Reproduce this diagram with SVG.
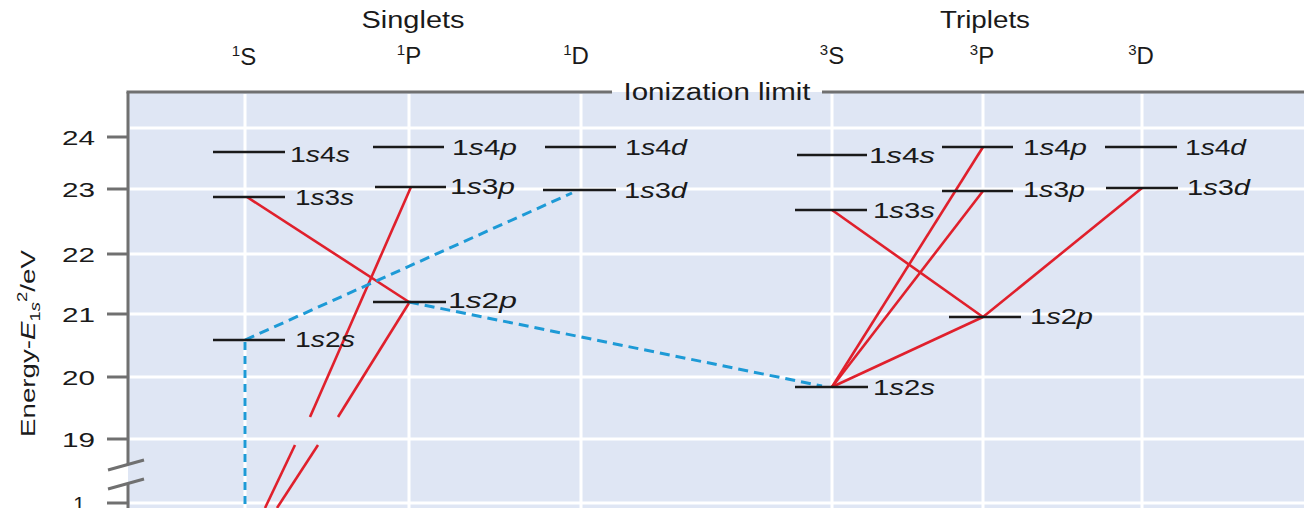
<svg xmlns="http://www.w3.org/2000/svg" width="1304" height="508" viewBox="0 0 1304 508">
<style>
text{font-family:"Liberation Sans",Arial,sans-serif;fill:#1a1a1a}
.hd{font-size:23px}
.tm{font-size:24px}
.sup{font-size:15px}
.ax{font-size:21px}
.lv{font-size:22px}
.i{font-style:italic}
.grid{stroke:#ffffff;stroke-width:3}
.axis{stroke:#707070;stroke-width:3;fill:none}
.lvl{stroke:#1a1a1a;stroke-width:2.6}
.red{stroke:#e0202c;stroke-width:2.6;fill:none}
.blue{stroke:#1d9ad6;stroke-width:3;stroke-dasharray:10 6;fill:none}
.bluev{stroke:#1d9ad6;stroke-width:3;stroke-dasharray:8 6;fill:none}
</style>
<rect x="0" y="0" width="1304" height="508" fill="#ffffff"/>
<rect x="128" y="92" width="1176" height="416" fill="#dfe6f4"/>
<g id="grid">
<line class="grid" x1="130" y1="128" x2="1304" y2="128"/>
<line class="grid" x1="130" y1="189" x2="1304" y2="189"/>
<line class="grid" x1="130" y1="254" x2="1304" y2="254"/>
<line class="grid" x1="130" y1="314" x2="1304" y2="314"/>
<line class="grid" x1="130" y1="377" x2="1304" y2="377"/>
<line class="grid" x1="130" y1="439" x2="1304" y2="439"/>
<line class="grid" x1="130" y1="503" x2="1304" y2="503"/>
<line class="grid" x1="245" y1="94" x2="245" y2="508"/>
<line class="grid" x1="409" y1="94" x2="409" y2="508"/>
<line class="grid" x1="581" y1="94" x2="581" y2="508"/>
<line class="grid" x1="832" y1="94" x2="832" y2="508"/>
<line class="grid" x1="983" y1="94" x2="983" y2="508"/>
<line class="grid" x1="1142" y1="94" x2="1142" y2="508"/>
</g>
<g id="axis">
<line class="axis" x1="128" y1="92" x2="128" y2="464"/>
<line class="axis" x1="128" y1="483" x2="128" y2="508"/>
<line class="axis" x1="126.5" y1="92" x2="612" y2="92"/>
<line class="axis" x1="822" y1="92" x2="1304" y2="92"/>
<line class="axis" x1="108" y1="470" x2="144" y2="460"/>
<line class="axis" x1="108" y1="489" x2="144" y2="479"/>
<line class="axis" x1="107" y1="137" x2="128" y2="137"/>
<line class="axis" x1="107" y1="189" x2="128" y2="189"/>
<line class="axis" x1="107" y1="254" x2="128" y2="254"/>
<line class="axis" x1="107" y1="314" x2="128" y2="314"/>
<line class="axis" x1="107" y1="377" x2="128" y2="377"/>
<line class="axis" x1="107" y1="439" x2="128" y2="439"/>
<line class="axis" x1="107" y1="503" x2="128" y2="503"/>
<text class="ax" x="95" y="145" text-anchor="end" textLength="33" lengthAdjust="spacingAndGlyphs">24</text>
<text class="ax" x="95" y="197" text-anchor="end" textLength="33" lengthAdjust="spacingAndGlyphs">23</text>
<text class="ax" x="95" y="262" text-anchor="end" textLength="33" lengthAdjust="spacingAndGlyphs">22</text>
<text class="ax" x="95" y="322" text-anchor="end" textLength="33" lengthAdjust="spacingAndGlyphs">21</text>
<text class="ax" x="95" y="385" text-anchor="end" textLength="33" lengthAdjust="spacingAndGlyphs">20</text>
<text class="ax" x="95" y="447" text-anchor="end" textLength="33" lengthAdjust="spacingAndGlyphs">19</text>
<text class="ax" x="85" y="511" text-anchor="end">1</text>
<text class="ax" font-size="20" transform="translate(35,437) rotate(-90) scale(1.32,1)">Energy-<tspan class="i">E</tspan><tspan font-size="14" dy="5">1<tspan class="i">s</tspan></tspan><tspan font-size="14" dy="-13">2</tspan><tspan dy="8">/eV</tspan></text>
</g>
<g id="headers">
<text class="hd" x="413" y="28" text-anchor="middle" textLength="103" lengthAdjust="spacingAndGlyphs">Singlets</text>
<text class="hd" x="985" y="28" text-anchor="middle" textLength="90" lengthAdjust="spacingAndGlyphs">Triplets</text>
<text class="hd" x="717" y="100" text-anchor="middle" textLength="187" lengthAdjust="spacingAndGlyphs">Ionization limit</text>
<text class="tm" x="244" y="65" text-anchor="middle"><tspan class="sup" dy="-9">1</tspan><tspan dy="9">S</tspan></text>
<text class="tm" x="409" y="64" text-anchor="middle"><tspan class="sup" dy="-9">1</tspan><tspan dy="9">P</tspan></text>
<text class="tm" x="576" y="64" text-anchor="middle"><tspan class="sup" dy="-9">1</tspan><tspan dy="9">D</tspan></text>
<text class="tm" x="832" y="64" text-anchor="middle"><tspan class="sup" dy="-9">3</tspan><tspan dy="9">S</tspan></text>
<text class="tm" x="982" y="64" text-anchor="middle"><tspan class="sup" dy="-9">3</tspan><tspan dy="9">P</tspan></text>
<text class="tm" x="1141" y="64" text-anchor="middle"><tspan class="sup" dy="-9">3</tspan><tspan dy="9">D</tspan></text>
</g>
<g id="connectors">
<line class="red" x1="247" y1="197" x2="409" y2="302"/>
<line class="red" x1="411" y1="187" x2="310" y2="417"/>
<line class="red" x1="295" y1="445" x2="265" y2="508"/>
<line class="red" x1="409" y1="303" x2="338" y2="417"/>
<line class="red" x1="318" y1="445" x2="277" y2="508"/>
<line class="red" x1="832" y1="210" x2="983" y2="317"/>
<line class="red" x1="832" y1="387" x2="983" y2="147"/>
<line class="red" x1="832" y1="387" x2="983" y2="191"/>
<line class="red" x1="832" y1="387" x2="983" y2="317"/>
<line class="red" x1="983" y1="317" x2="1142" y2="188"/>
<line class="blue" x1="245" y1="340" x2="572" y2="193"/>
<line class="blue" x1="409" y1="302" x2="822" y2="386"/>
<line class="bluev" x1="245" y1="342" x2="245" y2="508"/>
</g>
<g id="s1-1s4s"><line class="lvl" x1="213" y1="152" x2="285" y2="152"/><text class="lv" x="290" y="162" textLength="60" lengthAdjust="spacingAndGlyphs">1<tspan class="i">s</tspan>4<tspan class="i">s</tspan></text></g>
<g id="s1-1s3s"><line class="lvl" x1="213" y1="197" x2="285" y2="197"/><text class="lv" x="295" y="205" textLength="59" lengthAdjust="spacingAndGlyphs">1<tspan class="i">s</tspan>3<tspan class="i">s</tspan></text></g>
<g id="s1-1s2s"><line class="lvl" x1="213" y1="340" x2="285" y2="340"/><text class="lv" x="295" y="347" textLength="60" lengthAdjust="spacingAndGlyphs">1<tspan class="i">s</tspan>2<tspan class="i">s</tspan></text></g>
<g id="p1-1s4p"><line class="lvl" x1="373" y1="147" x2="444" y2="147"/><text class="lv" x="452" y="155" textLength="65" lengthAdjust="spacingAndGlyphs">1<tspan class="i">s</tspan>4<tspan class="i">p</tspan></text></g>
<g id="p1-1s3p"><line class="lvl" x1="375" y1="187" x2="446" y2="187"/><text class="lv" x="450" y="194" textLength="65" lengthAdjust="spacingAndGlyphs">1<tspan class="i">s</tspan>3<tspan class="i">p</tspan></text></g>
<g id="p1-1s2p"><line class="lvl" x1="373" y1="302" x2="446" y2="302"/><text class="lv" x="448" y="308" textLength="69" lengthAdjust="spacingAndGlyphs">1<tspan class="i">s</tspan>2<tspan class="i">p</tspan></text></g>
<g id="d1-1s4d"><line class="lvl" x1="545" y1="147" x2="616" y2="147"/><text class="lv" x="625" y="155" textLength="62" lengthAdjust="spacingAndGlyphs">1<tspan class="i">s</tspan>4<tspan class="i">d</tspan></text></g>
<g id="d1-1s3d"><line class="lvl" x1="543" y1="190" x2="616" y2="190"/><text class="lv" x="624" y="198" textLength="63" lengthAdjust="spacingAndGlyphs">1<tspan class="i">s</tspan>3<tspan class="i">d</tspan></text></g>
<g id="s3-1s4s"><line class="lvl" x1="797" y1="155" x2="867" y2="155"/><text class="lv" x="869" y="163" textLength="66" lengthAdjust="spacingAndGlyphs">1<tspan class="i">s</tspan>4<tspan class="i">s</tspan></text></g>
<g id="s3-1s3s"><line class="lvl" x1="795" y1="210" x2="867" y2="210"/><text class="lv" x="873" y="218" textLength="62" lengthAdjust="spacingAndGlyphs">1<tspan class="i">s</tspan>3<tspan class="i">s</tspan></text></g>
<g id="s3-1s2s"><line class="lvl" x1="795" y1="387" x2="868" y2="387"/><text class="lv" x="873" y="395" textLength="62" lengthAdjust="spacingAndGlyphs">1<tspan class="i">s</tspan>2<tspan class="i">s</tspan></text></g>
<g id="p3-1s4p"><line class="lvl" x1="942" y1="147" x2="1013" y2="147"/><text class="lv" x="1023" y="155" textLength="64" lengthAdjust="spacingAndGlyphs">1<tspan class="i">s</tspan>4<tspan class="i">p</tspan></text></g>
<g id="p3-1s3p"><line class="lvl" x1="942" y1="191" x2="1013" y2="191"/><text class="lv" x="1023" y="197" textLength="62" lengthAdjust="spacingAndGlyphs">1<tspan class="i">s</tspan>3<tspan class="i">p</tspan></text></g>
<g id="p3-1s2p"><line class="lvl" x1="949" y1="317" x2="1021" y2="317"/><text class="lv" x="1030" y="324" textLength="63" lengthAdjust="spacingAndGlyphs">1<tspan class="i">s</tspan>2<tspan class="i">p</tspan></text></g>
<g id="d3-1s4d"><line class="lvl" x1="1105" y1="147" x2="1177" y2="147"/><text class="lv" x="1185" y="155" textLength="61" lengthAdjust="spacingAndGlyphs">1<tspan class="i">s</tspan>4<tspan class="i">d</tspan></text></g>
<g id="d3-1s3d"><line class="lvl" x1="1106" y1="188" x2="1178" y2="188"/><text class="lv" x="1187" y="195" textLength="63" lengthAdjust="spacingAndGlyphs">1<tspan class="i">s</tspan>3<tspan class="i">d</tspan></text></g>
</svg>
